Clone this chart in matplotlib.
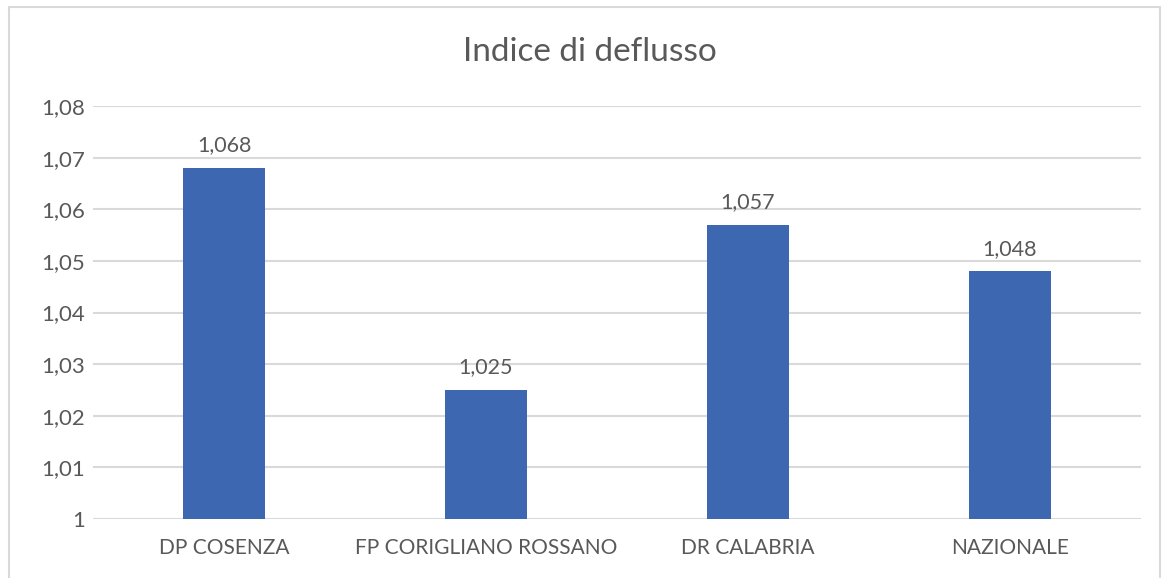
import matplotlib as mpl
mpl.use('Agg')
import matplotlib.pyplot as plt
from matplotlib.patches import Rectangle

categories = ['DP COSENZA', 'FP CORIGLIANO ROSSANO', 'DR CALABRIA', 'NAZIONALE']
values = [1.068, 1.025, 1.057, 1.048]
value_labels = ['1,068', '1,025', '1,057', '1,048']
yticks = [1.00, 1.01, 1.02, 1.03, 1.04, 1.05, 1.06, 1.07, 1.08]
ytick_labels = ['1', '1,01', '1,02', '1,03', '1,04', '1,05', '1,06', '1,07', '1,08']

plt.rcParams['font.family'] = ['Lato', 'DejaVu Sans']
text_col = '#595959'

fig = plt.figure(figsize=(11.66, 5.78), dpi=100)
fig.patches.append(Rectangle((9 / 1166, -0.05), 1151 / 1166, 1 - 7 / 578 + 0.05,
                             transform=fig.transFigure, fill=False,
                             edgecolor='#d9d9d9', linewidth=1.5))

ax = fig.add_axes([93 / 1166, 1 - 519 / 578, 1048 / 1166, 413 / 578])
x = list(range(len(categories)))
ax.bar(x, values, width=0.31, bottom=0, color='#3d67b1', zorder=3)
ax.set_xlim(-0.5, len(categories) - 0.5)
ax.set_ylim(1.0, 1.08)

for xi, v, lab in zip(x, values, value_labels):
    ax.annotate(lab, (xi, v), xytext=(0, 9), textcoords='offset points',
                ha='center', va='bottom', fontsize=15.5, color=text_col)

ax.set_yticks(yticks)
ax.set_yticklabels(ytick_labels)
ax.set_xticks(x)
ax.set_xticklabels(categories)
ax.tick_params(axis='both', length=0, labelsize=15, colors=text_col)
ax.tick_params(axis='y', labelsize=16, pad=6)
ax.tick_params(axis='x', pad=14)
ax.grid(axis='y', color='#d9d9d9', linewidth=1.5, zorder=0)
for s in ax.spines.values():
    s.set_visible(False)

fig.text(590 / 1166, 1 - 52 / 578, 'Indice di deflusso', ha='center', va='center',
         fontsize=24, color=text_col)

fig.savefig('out.png', dpi=100)
